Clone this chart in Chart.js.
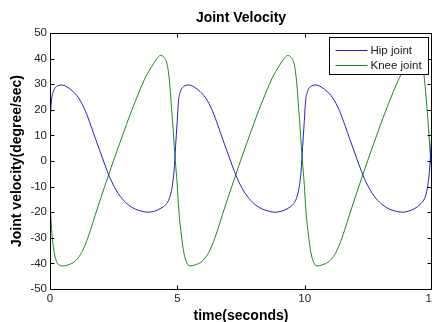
<!DOCTYPE html>
<html>
<head>
<meta charset="utf-8">
<title>Joint Velocity</title>
<script src="https://cdn.jsdelivr.net/npm/chart.js@4/dist/chart.umd.min.js"></script>
<style>
    html, body { margin: 0; padding: 0; background: #fff; overflow: hidden; }
    canvas { display: block; }
</style>
</head>
<body>
<canvas id="chart" width="432" height="322"></canvas>
<script>
/* Datos: tiempo (s) y velocidad (grados/s) */
const hipTime = [
    0, 0.06, 0.11, 0.19, 0.31, 0.46, 0.62, 0.8, 1.0, 1.2, 1.4, 1.6, 1.8, 2.0, 2.1, 2.2, 2.3, 2.55, 2.82, 3.1,
    3.35, 3.6, 3.85, 4.1, 4.35, 4.55, 4.68, 4.76, 4.82, 4.87, 4.93,
    4.99, 5.05, 5.1, 5.18, 5.3, 5.45, 5.61, 5.79, 5.99, 6.19, 6.39, 6.59, 6.79, 6.99, 7.09, 7.19, 7.29, 7.54, 7.81, 8.09,
    8.34, 8.59, 8.84, 9.09, 9.34, 9.54, 9.67, 9.75, 9.81, 9.86, 9.92,
    9.98, 10.04, 10.09, 10.17, 10.29, 10.44, 10.6, 10.78, 10.98, 11.18, 11.38, 11.58, 11.78, 11.98, 12.08, 12.18, 12.28, 12.53, 12.8, 13.08,
    13.33, 13.58, 13.83, 14.08, 14.33, 14.53, 14.7, 14.79, 14.85, 14.9, 14.96, 15.0
];
const hipVel = [
    16, 23.8, 26.5, 28.4, 29.4, 29.7, 29.2, 28, 26.2, 23.4, 19.3, 14, 8.3, 2.8, 0, -2.7, -5.3, -10.6, -14.6, -17.3,
    -18.8, -19.6, -20, -19.6, -18.5, -17, -14.8, -12, -8.5, -4, 5.6,
    14.7, 23.8, 26.5, 28.4, 29.4, 29.7, 29.2, 28, 26.2, 23.4, 19.3, 14, 8.3, 2.8, 0, -2.7, -5.3, -10.6, -14.6, -17.3,
    -18.8, -19.6, -20, -19.6, -18.5, -17, -14.8, -12, -8.5, -4, 5.6,
    14.7, 23.8, 26.5, 28.4, 29.4, 29.7, 29.2, 28, 26.2, 23.4, 19.3, 14, 8.3, 2.8, 0, -2.7, -5.3, -10.6, -14.6, -17.3,
    -18.8, -19.6, -20, -19.6, -18.5, -17, -14.8, -12, -8.5, -4, 5.6, 12
];

const kneeTime = [
    0, 0.04, 0.09, 0.16, 0.26, 0.4, 0.5, 0.7, 0.98, 1.2, 1.38, 1.58, 1.77, 2.0, 2.3, 2.5, 2.75, 3.0, 3.21, 3.5,
    3.74, 4.0, 4.2, 4.33, 4.46, 4.59, 4.66, 4.72, 4.77, 4.82, 4.88, 4.96,
    5.0, 5.04, 5.09, 5.16, 5.25, 5.35, 5.49, 5.69, 5.97, 6.19, 6.37, 6.57, 6.76, 6.99, 7.29, 7.49, 7.74, 7.99, 8.2, 8.49,
    8.73, 8.99, 9.19, 9.32, 9.45, 9.58, 9.65, 9.71, 9.76, 9.81, 9.87, 9.95,
    9.99, 10.03, 10.08, 10.15, 10.24, 10.34, 10.48, 10.68, 10.96, 11.18, 11.36, 11.56, 11.75, 11.98, 12.28, 12.48, 12.73, 12.98, 13.19, 13.48,
    13.72, 13.98, 14.18, 14.31, 14.44, 14.59, 14.68, 14.74, 14.8, 14.85, 14.91, 14.98, 15.0
];
const kneeVel = [
    -16, -23, -30, -35.5, -39.3, -40.8, -41, -40.6, -39.2, -36.5, -32.8, -27.3, -21.3, -14.3, -5.5, 0.3, 7.3, 14.2, 19.8, 27,
    32.5, 37, 40, 41.2, 40.7, 38.2, 34, 28, 21, 14.7, 5.6, -4.8,
    -10, -16.5, -23, -29, -35.5, -39.3, -41, -40.6, -39.2, -36.5, -32.8, -27.3, -21.3, -14.3, -5.5, 0.3, 7.3, 14.2, 19.8, 27,
    32.5, 37, 40, 41.2, 40.7, 38.2, 34, 28, 21, 14.7, 5.6, -4.8,
    -10, -16.5, -23, -29, -35.5, -39.3, -41, -40.6, -39.2, -36.5, -32.8, -27.3, -21.3, -14.3, -5.5, 0.3, 7.3, 14.2, 19.8, 27,
    32.5, 37, 40, 41.2, 40.7, 38.2, 34, 28, 21, 14.7, 5.6, -3, -6
];

const seriesNames = ['Hip joint', 'Knee joint'];
const seriesColors = ['#2020c8', '#1a8a1a'];
const xTicks = [0, 5, 10, 15];
const yTicks = [-50, -40, -30, -20, -10, 0, 10, 20, 30, 40, 50];

Chart.defaults.font.family = '"Liberation Sans", Arial, sans-serif';
Chart.defaults.color = '#222';

/* Caja estilo MATLAB: borde, marcas hacia adentro y leyenda */
const cajaMatlab = {
    id: 'cajaMatlab',
    afterDatasetsDraw(chart) {
        const {ctx, chartArea: a, scales: {x, y}} = chart;
        const L = Math.round(a.left) + 0.5, R = Math.round(a.right) - 0.5;
        const T = Math.round(a.top) + 0.5, B = Math.round(a.bottom) + 0.5;
        ctx.save();
        ctx.strokeStyle = '#000';
        ctx.lineWidth = 1;
        ctx.beginPath();
        ctx.rect(L, T, R - L, B - T);
        xTicks.forEach(v => {
            const px = Math.round(x.getPixelForValue(v)) + 0.5;
            ctx.moveTo(px, B); ctx.lineTo(px, B - 4);
            ctx.moveTo(px, T); ctx.lineTo(px, T + 4);
        });
        yTicks.forEach(v => {
            const py = Math.round(y.getPixelForValue(v)) + 0.5;
            ctx.moveTo(L, py); ctx.lineTo(L + 4, py);
            ctx.moveTo(R, py); ctx.lineTo(R - 4, py);
        });
        ctx.stroke();

        // leyenda
        const lx = Math.round(a.right) - 103 + 0.5, ly = Math.round(a.top) + 4 + 0.5;
        ctx.fillStyle = '#fff';
        ctx.fillRect(lx, ly, 99, 37);
        ctx.strokeRect(lx, ly, 99, 37);
        ctx.font = '11.5px "Liberation Sans", Arial, sans-serif';
        ctx.textBaseline = 'middle';
        ctx.textAlign = 'left';
        chart.data.datasets.forEach((ds, i) => {
            const yy = Math.round(ly + 12 + i * 15.5) + 0.5;
            ctx.strokeStyle = ds.borderColor;
            ctx.beginPath();
            ctx.moveTo(lx + 6, yy); ctx.lineTo(lx + 38, yy);
            ctx.stroke();
            ctx.fillStyle = '#222';
            ctx.fillText(ds.label, lx + 41, yy + 0.5);
        });
        ctx.restore();
    }
};

const ctx = document.querySelector('#chart').getContext('2d');

new Chart(ctx, {
    type: 'line',
    data: {
        datasets: [
            {
                label: seriesNames[0],
                data: hipTime.map((t, i) => ({x: t, y: hipVel[i]})),
                borderColor: seriesColors[0],
                borderWidth: 1,
                pointRadius: 0,
                cubicInterpolationMode: 'monotone'
            },
            {
                label: seriesNames[1],
                data: kneeTime.map((t, i) => ({x: t, y: kneeVel[i]})),
                borderColor: seriesColors[1],
                borderWidth: 1,
                pointRadius: 0,
                cubicInterpolationMode: 'monotone'
            }
        ]
    },
    options: {
        responsive: false,
        animation: false,
        events: [],
        layout: { padding: 0 },
        plugins: {
            legend: { display: false },
            tooltip: { enabled: false },
            title: {
                display: true,
                text: 'Joint Velocity',
                fullSize: false,
                color: '#000',
                font: { size: 14, weight: 'bold', lineHeight: 1.2 },
                padding: { top: 10, bottom: 6.2 }
            }
        },
        scales: {
            x: {
                type: 'linear',
                min: 0,
                max: 15,
                grid: { display: false, drawTicks: false },
                border: { display: false },
                ticks: {
                    stepSize: 5,
                    padding: 3,
                    maxRotation: 0,
                    font: { size: 11.5 }
                },
                title: {
                    display: true,
                    text: 'time(seconds)',
                    color: '#000',
                    font: { size: 14, weight: 'bold', lineHeight: 1 },
                    padding: { top: 0, bottom: -1.5 }
                },
                afterFit(scale) {
                    scale.height = 33;
                    scale.paddingLeft = 0;
                    scale.paddingRight = 0;
                }
            },
            y: {
                min: -50,
                max: 50,
                grid: { display: false, drawTicks: false },
                border: { display: false },
                ticks: {
                    stepSize: 10,
                    padding: 3,
                    font: { size: 11.5 }
                },
                title: {
                    display: true,
                    text: 'Joint velocity(degree/sec)',
                    color: '#000',
                    font: { size: 14, weight: 'bold', lineHeight: 1.2 },
                    padding: { top: 9, bottom: 0 }
                },
                afterFit(scale) {
                    scale.width = 50;
                }
            }
        }
    },
    plugins: [cajaMatlab]
});
</script>
</body>
</html>
